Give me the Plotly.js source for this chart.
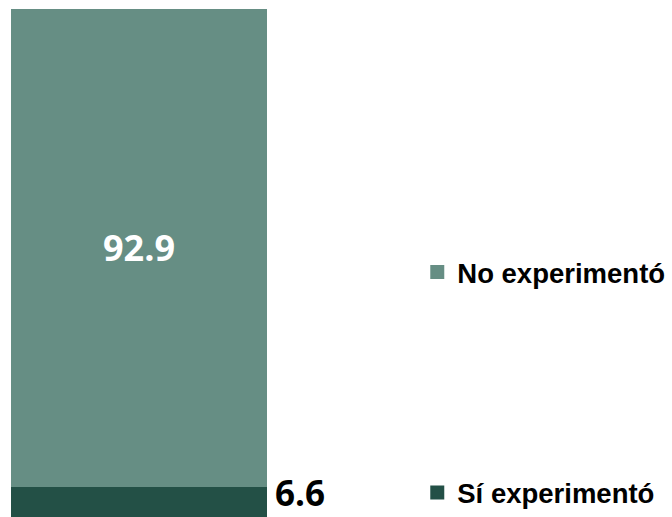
<!DOCTYPE html>
<html>
<head>
<meta charset="utf-8">
<script src="https://cdn.plot.ly/plotly-3.0.1.min.js"></script>
<style>html,body{margin:0;padding:0;background:#fff;}#chart{width:672px;height:517px;}</style>
</head>
<body>
<div id="chart"></div>
<script>
const categories = ["Total"];
const seriesNames = ["Sí experimentó", "No experimentó"];
const siValues = [6.6];
const noValues = [92.9];
const seriesColors = ["#235046", "#668E84"];

const traces = [
  {
    type: "bar", name: seriesNames[0], x: categories, y: siValues,
    marker: {color: seriesColors[0], line: {color: seriesColors[0], width: 2}}, textposition: "none",
    legend: "legend2", hoverinfo: "skip"
  },
  {
    type: "bar", name: seriesNames[1], x: categories, y: noValues,
    marker: {color: seriesColors[1], line: {color: seriesColors[1], width: 2}},
    text: noValues.map(v => v.toFixed(1)), textposition: "inside",
    insidetextanchor: "middle",
    textfont: {family: "Open Sans", size: 36, color: "#ffffff", weight: 700},
    legend: "legend", hoverinfo: "skip"
  }
];

const legendFont = {family: "Liberation Sans, Arial", size: 27.5, color: "#000000", weight: 700};

const layout = {
  width: 672, height: 517,
  margin: {l: 11, r: 405, t: 9, b: 0},
  barmode: "stack", bargap: 0,
  showlegend: true,
  paper_bgcolor: "#ffffff", plot_bgcolor: "#ffffff",
  xaxis: {type: "category", visible: false, range: [-0.5, 0.5]},
  yaxis: {visible: false, range: [0.6, 99.5]},
  legend: {x: 1.587, xanchor: "left", y: 0.482, yanchor: "middle", font: legendFont, bgcolor: "rgba(0,0,0,0)"},
  legend2: {x: 1.587, xanchor: "left", y: 0, yanchor: "bottom", font: legendFont, bgcolor: "rgba(0,0,0,0)"},
  annotations: siValues.map((v, i) => ({
    xref: "x", yref: "paper", x: i + 0.5, y: 0,
    text: v.toFixed(1), showarrow: false, xanchor: "left", yanchor: "bottom", xshift: 7,
    borderpad: 0,
    font: {family: "Open Sans", size: 35, color: "#000000", weight: 700}
  }))
};

Plotly.newPlot("chart", traces, layout, {displayModeBar: false, staticPlot: true});
</script>
</body>
</html>
